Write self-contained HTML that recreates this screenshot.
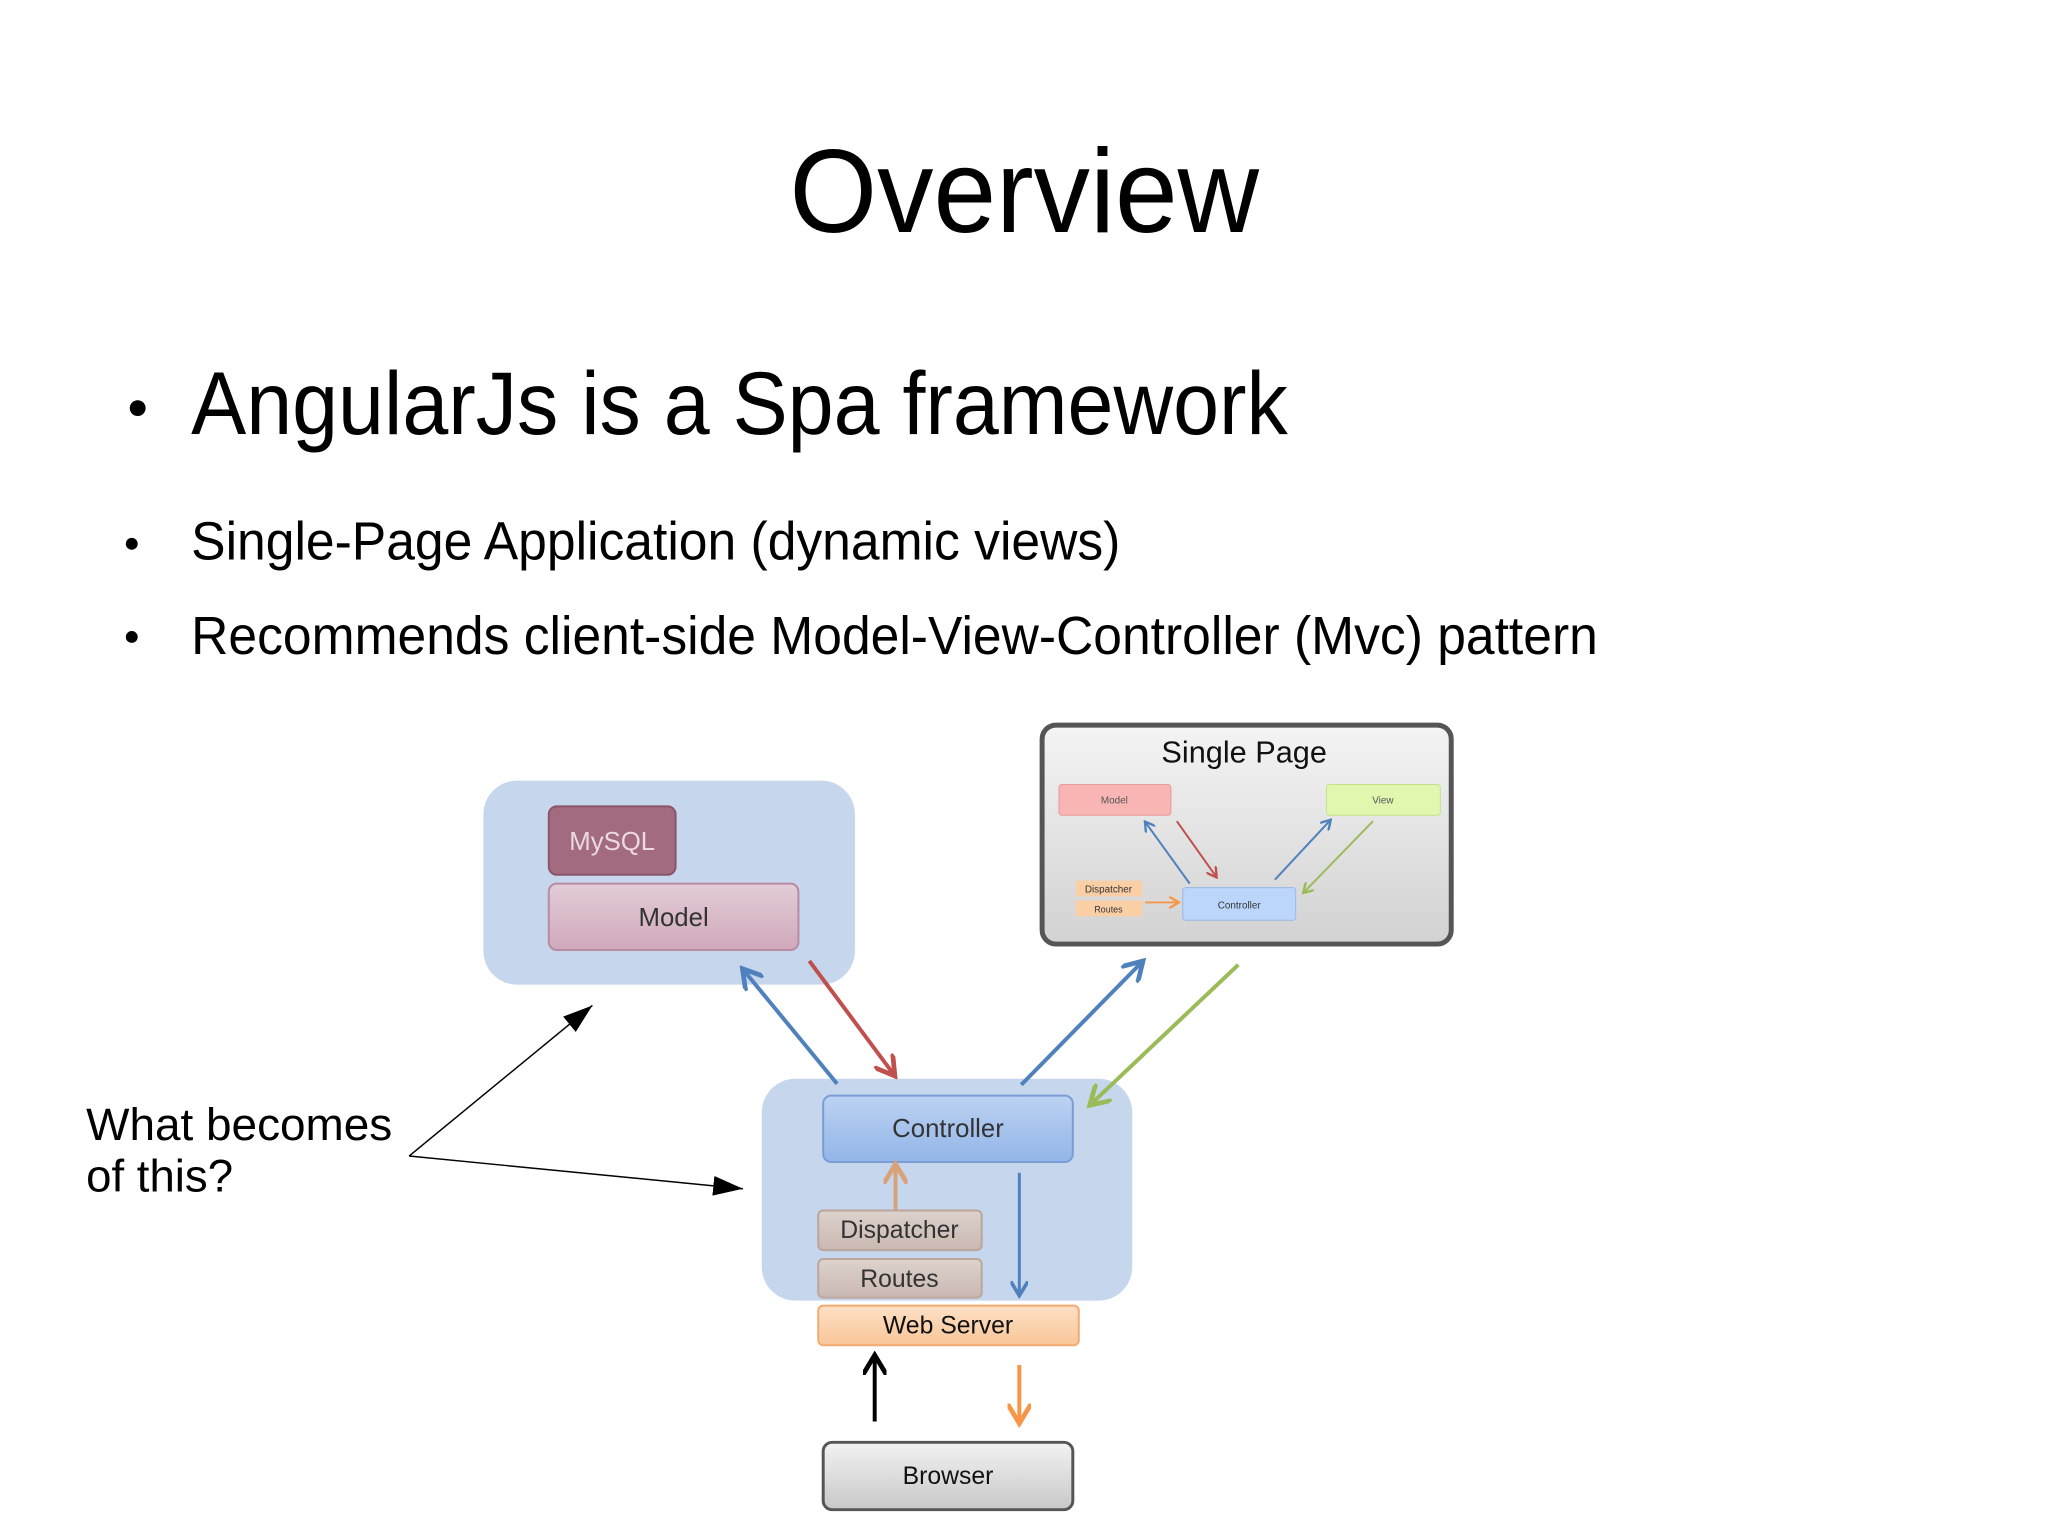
<!DOCTYPE html>
<html><head><meta charset="utf-8"><style>
html,body{margin:0;padding:0;background:#fff;}
svg{display:block;}
text{font-family:"Liberation Sans",sans-serif;}
</style></head><body>
<svg width="2048" height="1535" viewBox="0 0 2048 1535" xmlns="http://www.w3.org/2000/svg">
<defs>
<linearGradient id="gModel" x1="0" y1="0" x2="0" y2="1"><stop offset="0" stop-color="#e3ccd8"/><stop offset="1" stop-color="#cfa9bb"/></linearGradient>
<linearGradient id="gCtrl" x1="0" y1="0" x2="0" y2="1"><stop offset="0" stop-color="#bcd2f2"/><stop offset="1" stop-color="#93b5e8"/></linearGradient>
<linearGradient id="gGray" x1="0" y1="0" x2="0" y2="1"><stop offset="0" stop-color="#f2f2f2"/><stop offset="1" stop-color="#c8c8c8"/></linearGradient>
<linearGradient id="gTan" x1="0" y1="0" x2="0" y2="1"><stop offset="0" stop-color="#ddd2cd"/><stop offset="1" stop-color="#c9b8b0"/></linearGradient>
<linearGradient id="gWeb" x1="0" y1="0" x2="0" y2="1"><stop offset="0" stop-color="#fde0c6"/><stop offset="1" stop-color="#f9c698"/></linearGradient>
<linearGradient id="gSP" x1="0" y1="0" x2="0" y2="1"><stop offset="0" stop-color="#f4f4f4"/><stop offset="1" stop-color="#d2d2d2"/></linearGradient>
<marker id="mBlue" markerWidth="6" markerHeight="6" refX="4" refY="3" orient="auto" markerUnits="strokeWidth"><path d="M0,0 L5,3 L0,6" fill="none" stroke="#4f81bd" stroke-width="1.2"/></marker>
<marker id="mRed" markerWidth="6" markerHeight="6" refX="4" refY="3" orient="auto" markerUnits="strokeWidth"><path d="M0,0 L5,3 L0,6" fill="none" stroke="#c0504d" stroke-width="1.2"/></marker>
<marker id="mGreen" markerWidth="6" markerHeight="6" refX="4" refY="3" orient="auto" markerUnits="strokeWidth"><path d="M0,0 L5,3 L0,6" fill="none" stroke="#9bbb59" stroke-width="1.2"/></marker>
<marker id="mOr" markerWidth="6" markerHeight="6" refX="4" refY="3" orient="auto" markerUnits="strokeWidth"><path d="M0,0 L5,3 L0,6" fill="none" stroke="#f79646" stroke-width="1.2"/></marker>
<marker id="mTan" markerWidth="6" markerHeight="6" refX="4" refY="3" orient="auto" markerUnits="strokeWidth"><path d="M0,0 L5,3 L0,6" fill="none" stroke="#d9a17a" stroke-width="1.2"/></marker>
<marker id="mBlk" markerWidth="6" markerHeight="6" refX="4" refY="3" orient="auto" markerUnits="strokeWidth"><path d="M0,0 L5,3 L0,6" fill="none" stroke="#000" stroke-width="1.2"/></marker>
<marker id="mTri" markerWidth="30" markerHeight="20" refX="30" refY="10" orient="auto" markerUnits="userSpaceOnUse"><path d="M0,0 L30,10 L0,20 Z" fill="#000"/></marker>
</defs>
<g transform="scale(0.9906)">
<text x="1034" y="234" font-size="120" text-anchor="middle" textLength="474" lengthAdjust="spacingAndGlyphs">Overview</text>
<circle cx="139" cy="412" r="8" fill="#000"/>
<text x="193" y="438" font-size="90" textLength="1107" lengthAdjust="spacingAndGlyphs">AngularJs is a Spa framework</text>
<circle cx="133" cy="549" r="6" fill="#000"/>
<text x="193" y="565" font-size="54" textLength="938" lengthAdjust="spacingAndGlyphs">Single-Page Application (dynamic views)</text>
<circle cx="133" cy="643" r="6" fill="#000"/>
<text x="193" y="660" font-size="54" textLength="1420" lengthAdjust="spacingAndGlyphs">Recommends client-side Model-View-Controller (Mvc) pattern</text>
<text x="87" y="1151" font-size="46" textLength="309" lengthAdjust="spacingAndGlyphs">What becomes</text>
<text x="87" y="1203" font-size="46">of this?</text>

<rect x="488" y="788" width="375" height="206" rx="34" fill="#c6d6ec"/>
<rect x="554" y="814" width="128" height="69" rx="8" fill="#a36b7f" stroke="#8a5568" stroke-width="2"/>
<text x="618" y="858" font-size="26" fill="#ecd8df" text-anchor="middle">MySQL</text>
<rect x="554" y="892" width="252" height="67" rx="8" fill="url(#gModel)" stroke="#b98aa0" stroke-width="2"/>
<text x="680" y="935" font-size="26" fill="#333" text-anchor="middle">Model</text>

<rect x="769" y="1089" width="374" height="224" rx="34" fill="#c6d6ec"/>
<rect x="831" y="1106" width="252" height="67" rx="8" fill="url(#gCtrl)" stroke="#7a9dd6" stroke-width="2"/>
<text x="957" y="1148" font-size="26" fill="#333" text-anchor="middle">Controller</text>
<rect x="826" y="1222" width="165" height="40" rx="5" fill="url(#gTan)" stroke="#bba69c" stroke-width="2"/>
<text x="908" y="1250" font-size="25" fill="#333" text-anchor="middle">Dispatcher</text>
<rect x="826" y="1271" width="165" height="39" rx="5" fill="url(#gTan)" stroke="#bba69c" stroke-width="2"/>
<text x="908" y="1299" font-size="25" fill="#333" text-anchor="middle">Routes</text>
<rect x="826" y="1318" width="263" height="40" rx="5" fill="url(#gWeb)" stroke="#f0ac70" stroke-width="2"/>
<text x="957" y="1346" font-size="25" fill="#111" text-anchor="middle">Web Server</text>
<rect x="831" y="1456" width="252" height="68" rx="9" fill="url(#gGray)" stroke="#555" stroke-width="3"/>
<text x="957" y="1498" font-size="25" fill="#111" text-anchor="middle">Browser</text>

<rect x="1052" y="732" width="413" height="221" rx="14" fill="url(#gSP)" stroke="#555" stroke-width="5"/>
<text x="1256" y="770" font-size="31" fill="#111" text-anchor="middle">Single Page</text>
<rect x="1069" y="792" width="113" height="31" rx="3" fill="#f9b4b4" stroke="#e79898"/>
<text x="1125" y="811" font-size="10" fill="#555" text-anchor="middle">Model</text>
<rect x="1339" y="792" width="115" height="31" rx="3" fill="#e1f7b0" stroke="#c2e28a"/>
<text x="1396" y="811" font-size="10" fill="#555" text-anchor="middle">View</text>
<rect x="1194" y="896" width="114" height="33" rx="3" fill="#bcd6fb" stroke="#96b8e8"/>
<text x="1251" y="917" font-size="10" fill="#333" text-anchor="middle">Controller</text>
<rect x="1086" y="889" width="67" height="16" fill="#fbcfa6"/>
<text x="1119" y="901" font-size="10" fill="#333" text-anchor="middle">Dispatcher</text>
<rect x="1086" y="909" width="67" height="16" fill="#fbcfa6"/>
<text x="1119" y="921" font-size="9" fill="#333" text-anchor="middle">Routes</text>
<line x1="1201" y1="892" x2="1157" y2="831" stroke="#4f81bd" stroke-width="2" marker-end="url(#mBlue)"/>
<line x1="1188" y1="829" x2="1227" y2="884" stroke="#c0504d" stroke-width="2" marker-end="url(#mRed)"/>
<line x1="1287" y1="888" x2="1342" y2="829" stroke="#4f81bd" stroke-width="2" marker-end="url(#mBlue)"/>
<line x1="1386" y1="829" x2="1317" y2="900" stroke="#9bbb59" stroke-width="2" marker-end="url(#mGreen)"/>
<line x1="1156" y1="911" x2="1188" y2="911" stroke="#f79646" stroke-width="2" marker-end="url(#mOr)"/>

<line x1="845" y1="1094" x2="752" y2="981" stroke="#4f81bd" stroke-width="4" marker-end="url(#mBlue)"/>
<line x1="817" y1="970" x2="901" y2="1083" stroke="#c0504d" stroke-width="4" marker-end="url(#mRed)"/>
<line x1="1031" y1="1095" x2="1151" y2="973" stroke="#4f81bd" stroke-width="4" marker-end="url(#mBlue)"/>
<line x1="1250" y1="974" x2="1103" y2="1113" stroke="#9bbb59" stroke-width="4" marker-end="url(#mGreen)"/>
<line x1="904" y1="1221" x2="904" y2="1179" stroke="#d9a17a" stroke-width="4" marker-end="url(#mTan)"/>
<line x1="1029" y1="1184" x2="1029" y2="1305" stroke="#4f81bd" stroke-width="3" marker-end="url(#mBlue)"/>
<line x1="883" y1="1435" x2="883" y2="1372" stroke="#000" stroke-width="4" marker-end="url(#mBlk)"/>
<line x1="1029" y1="1378" x2="1029" y2="1433" stroke="#f79646" stroke-width="4" marker-end="url(#mOr)"/>

<line x1="413" y1="1167" x2="598" y2="1015" stroke="#000" stroke-width="1.5" marker-end="url(#mTri)"/>
<line x1="413" y1="1167" x2="750" y2="1200" stroke="#000" stroke-width="1.5" marker-end="url(#mTri)"/>
</g>
</svg>
</body></html>
